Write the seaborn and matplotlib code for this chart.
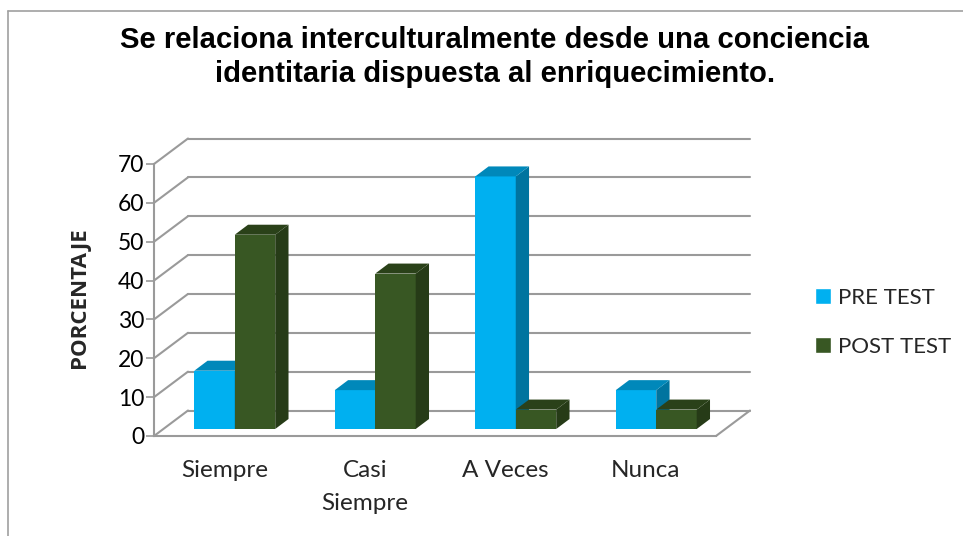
import matplotlib
matplotlib.use("Agg")
import matplotlib.pyplot as plt
import pandas as pd
import seaborn as sns
from matplotlib.lines import Line2D
from matplotlib.patches import Polygon

titulo = "Se relaciona interculturalmente desde una conciencia\nidentitaria dispuesta al enriquecimiento."
categorias = ["Siempre", "Casi\nSiempre", "A Veces", "Nunca"]
pre_test = [15, 10, 65, 10]
post_test = [50, 40, 5, 5]
ticks_y = [0, 10, 20, 30, 40, 50, 60, 70]

W, H = 963, 536
# px por unidad de datos
PX_X = (716 - 154) / 4
PX_Y = (436 - 164) / 70

# profundidad de la caja y de las barras, en unidades de datos
CAJA_X, CAJA_Y = 34 / PX_X, 25.5 / PX_Y
BARRA_X, BARRA_Y = 13.3 / PX_X, 10 / PX_Y
DESP_X, DESP_Y = 10.5 / PX_X, 7 / PX_Y

AZUL, AZUL_TOP, AZUL_LADO = "#00B0F0", "#0088BA", "#00749F"
VERDE, VERDE_TOP, VERDE_LADO = "#385723", "#2A4119", "#263B17"
GRIS = "#9A9A9A"

df = pd.DataFrame({
    "categoria": categorias * 2,
    "valor": pre_test + post_test,
    "serie": ["PRE TEST"] * 4 + ["POST TEST"] * 4,
})

sns.set_style("white")
plt.rcParams["font.family"] = ["Lato", "DejaVu Sans"]

fig = plt.figure(figsize=(W / 100, H / 100), dpi=100)
ax = fig.add_axes([154 / W, 1 - 436 / H, (716 - 154) / W, (436 - 164) / H])

sns.barplot(data=df, x="categoria", y="valor", hue="serie", order=categorias,
            hue_order=["PRE TEST", "POST TEST"],
            palette=[AZUL, VERDE], width=0.576, gap=0, saturation=1, ax=ax)
ax.set_xlim(-0.5, 3.5)
ax.set_ylim(0, 70)

# paredes: lineas del fondo y diagonales laterales
for v in ticks_y:
    ax.plot([-0.5 + CAJA_X, 3.5 + CAJA_X], [v + CAJA_Y, v + CAJA_Y], color=GRIS, lw=1.5,
            clip_on=False, zorder=1, solid_capstyle="round")
    ax.plot([-0.5, -0.5 + CAJA_X], [v, v + CAJA_Y], color=GRIS, lw=1.5,
            clip_on=False, zorder=1)
ax.plot([3.5, 3.5 + CAJA_X], [0, CAJA_Y], color=GRIS, lw=1.5, clip_on=False, zorder=1)


def extruir(barra, color_top, color_lado, z):
    x0, y0 = barra.get_x() + DESP_X, DESP_Y
    w, h = barra.get_width(), barra.get_height()
    barra.set_x(x0)
    barra.set_y(y0)
    barra.set_clip_on(False)
    barra.set_zorder(z)
    barra.set_edgecolor("none")
    x1, y1 = x0 + w, y0 + h
    lado = [(x1, y0), (x1 + BARRA_X, y0 + BARRA_Y), (x1 + BARRA_X, y1 + BARRA_Y), (x1, y1)]
    top = [(x0, y1), (x0 + BARRA_X, y1 + BARRA_Y), (x1 + BARRA_X, y1 + BARRA_Y), (x1, y1)]
    ax.add_patch(Polygon(lado, fc=color_lado, ec="none", clip_on=False, zorder=z))
    ax.add_patch(Polygon(top, fc=color_top, ec="none", clip_on=False, zorder=z))


for barra in ax.containers[0]:
    extruir(barra, AZUL_TOP, AZUL_LADO, 3)
for barra in ax.containers[1]:
    extruir(barra, VERDE_TOP, VERDE_LADO, 4)

# los ejes frontales
sns.despine(ax=ax, top=True, right=True)
for lado in ["left", "bottom"]:
    ax.spines[lado].set_color(GRIS)
    ax.spines[lado].set_linewidth(1.5)

ax.set_yticks(ticks_y)
ax.tick_params(axis="y", length=5.5, width=1.2, color=GRIS, labelsize=16.5, pad=1.5,
               labelcolor="black", left=True)
ax.set_xticks(range(4))
ax.set_xticklabels(categorias, fontsize=17.5, linespacing=1.7)
ax.tick_params(axis="x", length=0, pad=17)
ax.set_xlabel("")
ax.set_ylabel("PORCENTAJE", fontsize=16, fontweight="bold", family="Open Sans", labelpad=20)
ax.yaxis.label.set_y(0.508)

ax.legend(loc="upper left", bbox_to_anchor=(808 / W, 1 - 281 / H), bbox_transform=fig.transFigure,
          frameon=False, fontsize=16, handlelength=0.72, handleheight=0.72, handletextpad=0.35,
          labelspacing=1.3, borderpad=0.3, borderaxespad=0, title=None)

fig.text(495 / W, 1 - 57 / H, titulo, ha="center", va="center", fontsize=21.1, fontweight="bold",
         family="Liberation Sans", linespacing=1.25, color="black")

# marco del grafico
fig.add_artist(Line2D([8 / W, 8 / W], [0, 1 - 10.5 / H], color="#A0A0A0", lw=1.2))
fig.add_artist(Line2D([8 / W, 1], [1 - 10.5 / H, 1 - 10.5 / H], color="#A0A0A0", lw=1.2))

fig.savefig("out.png", dpi=100)
